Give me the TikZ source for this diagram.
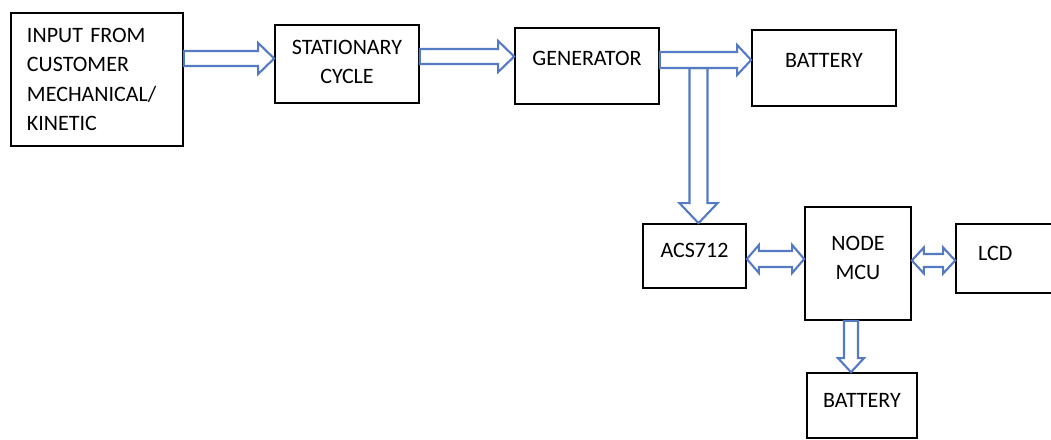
\documentclass[tikz,border=0pt]{standalone}
\usepackage{fontspec}
\setmainfont{Carlito}
\usetikzlibrary{calc}
\definecolor{flblue}{RGB}{84,122,196}
\tikzset{
	bloc/.style = {rectangle, draw=black, line width=1.7pt, inner sep=0pt,
		align=center, font=\fontsize{22}{29.5}\selectfont},
	bloc_wh/.style 2 args = {bloc, minimum width=#1, minimum height=#2},% taille du bloc
	lift/.style = {text depth=#1},% texte un peu plus haut
	fl/.style = {draw=flblue, line width=2.1pt, fill=white, line join=miter}% fleche creuse
}
% fleche creuse : depart, arrivee, demi-tige, demi-pointe, longueur pointe
\newcommand{\fleche}[5]{%
	\coordinate (fa) at #1; \coordinate (fb) at #2;
	\coordinate (fc) at ($(fb)!#5!(fa)$);
	\draw [fl] ($(fa)!#3!90:(fb)$) -- ($(fc)!#3!90:(fb)$) -- ($(fc)!#4!90:(fb)$) -- (fb)
		-- ($(fc)!#4!-90:(fb)$) -- ($(fc)!#3!-90:(fb)$) -- ($(fa)!#3!-90:(fb)$) -- cycle;
}
% fleche creuse dans les deux sens
\newcommand{\flechedd}[5]{%
	\coordinate (fa) at #1; \coordinate (fb) at #2;
	\coordinate (ca) at ($(fa)!#5!(fb)$); \coordinate (cb) at ($(fb)!#5!(fa)$);
	\draw [fl] (fa) -- ($(ca)!#4!90:(fb)$) -- ($(ca)!#3!90:(fb)$) -- ($(cb)!#3!90:(fb)$)
		-- ($(cb)!#4!90:(fb)$) -- (fb) -- ($(cb)!#4!-90:(fb)$) -- ($(cb)!#3!-90:(fb)$)
		-- ($(ca)!#3!-90:(fb)$) -- ($(ca)!#4!-90:(fb)$) -- cycle;
}

\begin{document}
\begin{tikzpicture}[x=1pt, y=-1pt]
	\useasboundingbox (0,0) rectangle (1051,439);
	\node [bloc_wh={172pt}{133pt}, align=left, text width=140pt] (in) at (97,79.5)
		{INPUT FROM\\CUSTOMER\\MECHANICAL/\\KINETIC};
	\node [bloc_wh={144pt}{78pt}, lift=4pt] (cyc) at (347,64) {STATIONARY\\CYCLE};
	\node [bloc_wh={144pt}{76pt}, lift=16pt] (gen) at (587,66) {GENERATOR};
	\node [bloc_wh={144pt}{76pt}, lift=16pt] (bat) at (824,68) {BATTERY};
	\node [bloc_wh={103pt}{64pt}, lift=12pt] (acs) at (694.5,256) {ACS712};
	\node [bloc_wh={106pt}{113pt}, lift=11pt] (mcu) at (858,263.5) {NODE\\MCU};
	\node [bloc_wh={124pt}{69pt}, lift=11pt, align=left, text width=80pt] (lcd) at (1018,258.5) {LCD};
	\node [bloc_wh={110pt}{65pt}, lift=10pt] (bat2) at (862,405.5) {BATTERY};

	\coordinate (tap) at (698.5,68);
	\fleche{(in.east |- 0,58.5)}{(cyc.west |- 0,58.5)}{7.5pt}{15.5pt}{16pt}
	\fleche{(cyc.east |- 0,56.5)}{(gen.west |- 0,56.5)}{7.5pt}{15.5pt}{16pt}
	\fleche{(tap)}{(tap |- acs.north)}{9pt}{19pt}{20pt}
	\fleche{(gen.east |- 0,60)}{(bat.west |- 0,60)}{8pt}{15pt}{14pt}
	\flechedd{(acs.east |- 0,259)}{(mcu.west |- 0,259)}{8pt}{14pt}{12pt}
	\flechedd{(mcu.east |- 0,260.5)}{(lcd.west |- 0,260.5)}{6.5pt}{13pt}{12pt}
	\fleche{(mcu.south -| 851,0)}{(bat2.north -| 851,0)}{7pt}{13pt}{14pt}
\end{tikzpicture}
\end{document}
